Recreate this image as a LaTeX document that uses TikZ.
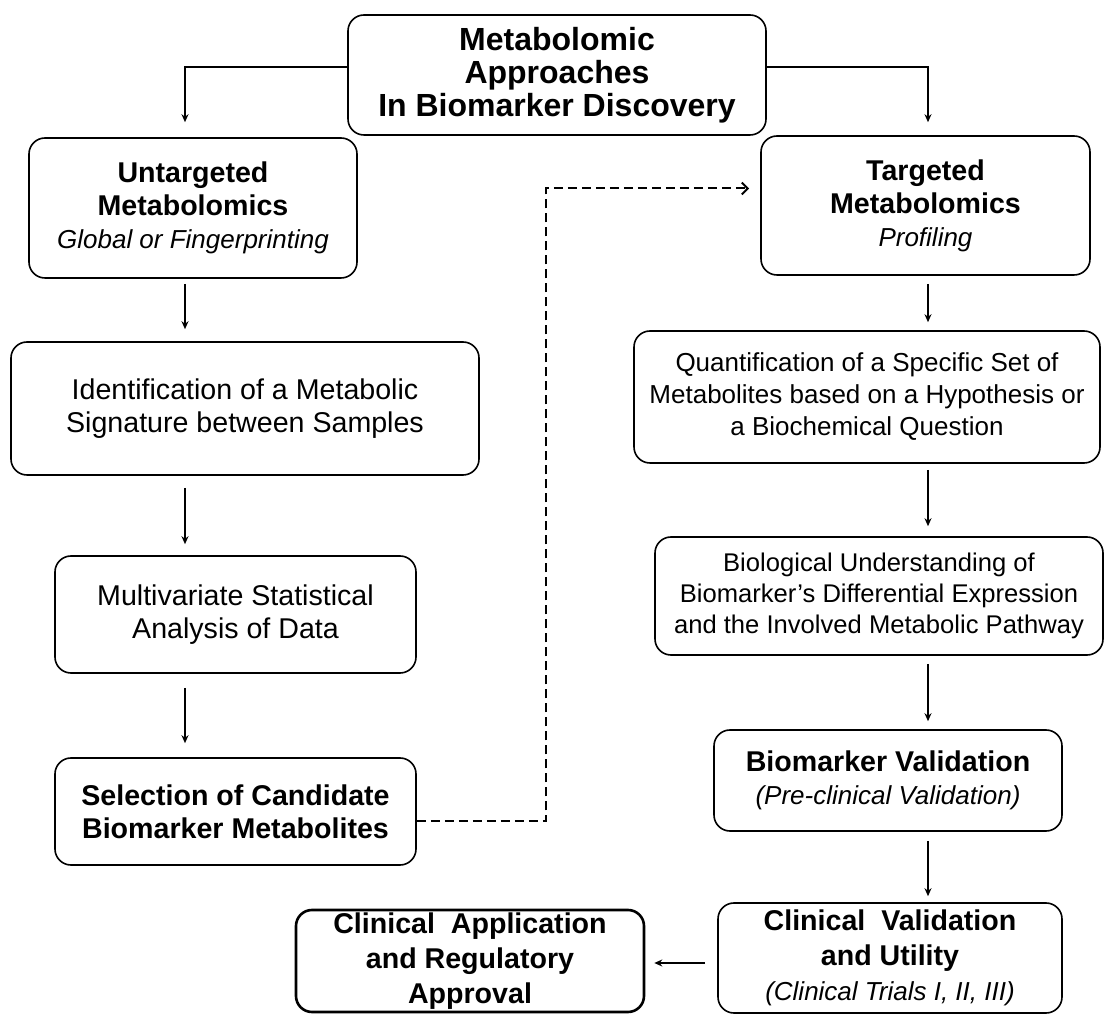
\documentclass[tikz,border=0pt]{standalone}
\usepackage{fontspec}
\setmainfont{Liberation Sans}
\usepackage{tikz}
\usetikzlibrary{arrows.meta}
\newcommand{\subtxt}[1]{{\fontsize{13}{16.5}\selectfont\itshape #1}}
\tikzset{
    box/.style={draw, rounded corners=8pt, line width=0.8pt, align=center, inner sep=0pt,
        font=\fontsize{14.3}{16.5}\selectfont},
    arr/.style={-{Stealth[length=4pt,width=3.5pt]}, line width=0.6pt},
}

\begin{document}
\begin{tikzpicture}[x=0.5pt, y=-0.5pt]
    \useasboundingbox (0,0) rectangle (1104,1015);
    % heading
    \node[box, font=\fontsize{16}{16.5}\selectfont\bfseries, minimum width=209pt, minimum height=60pt] (head) at (557,75)
        {Metabolomic\\Approaches\\In Biomarker Discovery};
    % left column
    \node[box, minimum width=164pt, minimum height=70pt] (untg) at (193,208)
        {\textbf{Untargeted}\\\textbf{Metabolomics}\\\subtxt{Global or Fingerprinting}};
    \node[box, minimum width=234pt, minimum height=66.5pt] (ident) at (245,408.5)
        {Identification of a Metabolic\\Signature between Samples};
    \node[box, minimum width=180.5pt, minimum height=58.5pt] (multi) at (235.5,614.5)
        {Multivariate Statistical\\Analysis of Data};
    \node[box, minimum width=180.5pt, minimum height=53.5pt] (sel) at (235.5,811.5)
        {\textbf{Selection of Candidate}\\\textbf{Biomarker Metabolites}};
    % right column
    \node[box, minimum width=164.5pt, minimum height=69.5pt] (tg) at (925.5,205.5)
        {\textbf{Targeted}\\\textbf{Metabolomics}\\\subtxt{Profiling}};
    \node[box, font=\fontsize{13}{16}\selectfont, minimum width=233pt, minimum height=66pt] (quant) at (867,397)
        {Quantification of a Specific Set of\\Metabolites based on a Hypothesis or\\a Biochemical Question};
    \node[box, font=\fontsize{12.8}{15.5}\selectfont, minimum width=224pt, minimum height=59pt] (bio) at (879,596)
        {Biological Understanding of\\Biomarker’s Differential Expression\\and the Involved Metabolic Pathway};
    \node[box, minimum width=174pt, minimum height=50.5pt] (bval) at (888,780.5)
        {\textbf{Biomarker Validation}\\\subtxt{(Pre-clinical Validation)}};
    \node[box, font=\fontsize{14.3}{17.5}\selectfont, minimum width=172pt, minimum height=55pt] (cval) at (890,958)
        {\textbf{Clinical\ \ Validation}\\\textbf{and Utility}\\\subtxt{(Clinical Trials I, II, III)}};
    \node[box, font=\fontsize{14.3}{17.5}\selectfont\bfseries, line width=1.3pt, minimum width=174pt, minimum height=51pt] (appr) at (470,961)
        {Clinical\ \ Application\\and Regulatory\\Approval};

    % connectors
    \coordinate (lc) at (185,0);
    \coordinate (rc) at (928,0);
    \draw[arr, shorten >=7.5pt] ([yshift=4pt]head.west) -| (lc |- untg.north);
    \draw[arr, shorten >=6.5pt] ([yshift=4pt]head.east) -| (rc |- tg.north);
    \draw[arr, shorten <=2.5pt, shorten >=6pt] (lc |- untg.south) -- (lc |- ident.north);
    \draw[arr, shorten <=6pt, shorten >=5.5pt] (lc |- ident.south) -- (lc |- multi.north);
    \draw[arr, shorten <=7pt, shorten >=7pt] (lc |- multi.south) -- (lc |- sel.north);
    \draw[arr, shorten <=4pt, shorten >=4pt] (rc |- tg.south) -- (rc |- quant.north);
    \draw[arr, shorten <=3pt, shorten >=5pt] (rc |- quant.south) -- (rc |- bio.north);
    \draw[arr, shorten <=4pt, shorten >=4pt] (rc |- bio.south) -- (rc |- bval.north);
    \draw[arr, shorten <=4.5pt, shorten >=3pt] (rc |- bval.south) -- (rc |- cval.north);
    \draw[arr, shorten <=6pt, shorten >=4.5pt] ([yshift=-2.5pt]cval.west) -- ([yshift=-2.5pt]cval.west -| appr.east);
    \draw[dash pattern=on 4.5pt off 2.5pt, line width=1pt,
        -{Straight Barb[length=3pt,width=6pt]}, shorten >=5.5pt]
        ([yshift=-5pt]sel.east) -- ++(129,0) |- ([yshift=8.5pt]tg.west);
\end{tikzpicture}
\end{document}
